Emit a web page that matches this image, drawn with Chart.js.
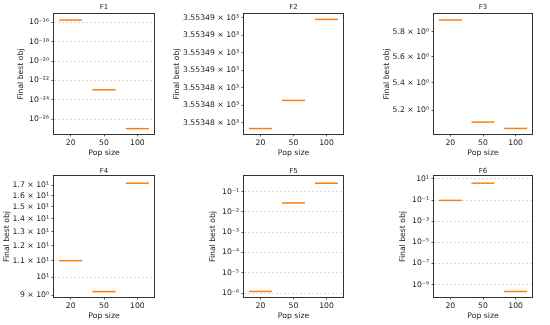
<!DOCTYPE html>
<html>
<head>
<meta charset="utf-8">
<script src="https://cdn.jsdelivr.net/npm/chart.js@4.4.1/dist/chart.umd.min.js"></script>
<style>
  body { margin: 0; background: #fff; }
  #wrap { position: relative; width: 550px; height: 325px; overflow: hidden; }
  canvas { position: absolute; }
</style>
</head>
<body>
<div id="wrap"></div>
<script>
const popSizes = ["20", "50", "100"];

const f1Values = [1.7e-16, 1.1e-23, 1.07e-27];
const f1Ticks = [1e-26, 1e-24, 1e-22, 1e-20, 1e-18, 1e-16];
const f1TickLabels = ["10⁻²⁶", "10⁻²⁴", "10⁻²²", "10⁻²⁰", "10⁻¹⁸", "10⁻¹⁶"];

const f2Values = [3553.47935, 3553.48256, 3553.4918];
const f2Ticks = [3553.48, 3553.482, 3553.484, 3553.486, 3553.488, 3553.49, 3553.492];
const f2TickLabels = [
  "3.55348 × 10³", "3.55348 × 10³", "3.55348 × 10³",
  "3.55349 × 10³", "3.55349 × 10³", "3.55349 × 10³", "3.55349 × 10³",
];

const f3Values = [5.895, 5.114, 5.069];
const f3Ticks = [5.2, 5.4, 5.6, 5.8];
const f3TickLabels = ["5.2 × 10⁰", "5.4 × 10⁰", "5.6 × 10⁰", "5.8 × 10⁰"];

const f4Values = [11.0, 9.2, 17.2];
const f4Ticks = [9, 10, 11, 12, 13, 14, 15, 16, 17];
const f4TickLabels = [
  "9 × 10⁰", "10¹", "1.1 × 10¹", "1.2 × 10¹", "1.3 × 10¹",
  "1.4 × 10¹", "1.5 × 10¹", "1.6 × 10¹", "1.7 × 10¹",
];

const f5Values = [1.2e-6, 0.0275, 0.257];
const f5Ticks = [1e-6, 1e-5, 1e-4, 1e-3, 1e-2, 1e-1];
const f5TickLabels = ["10⁻⁶", "10⁻⁵", "10⁻⁴", "10⁻³", "10⁻²", "10⁻¹"];

const f6Values = [0.093, 4.0, 2.2e-10];
const f6Ticks = [1e-9, 1e-7, 1e-5, 1e-3, 1e-1, 10];
const f6TickLabels = ["10⁻⁹", "10⁻⁷", "10⁻⁵", "10⁻³", "10⁻¹", "10¹"];

// axis ranges (log10 of min / max)
const panels = [
  { title: "F1", values: f1Values, ticks: f1Ticks, labels: f1TickLabels, min: Math.pow(10, -27.52), max: Math.pow(10, -15.14) },
  { title: "F2", values: f2Values, ticks: f2Ticks, labels: f2TickLabels, min: 3553.47873, max: 3553.49242 },
  { title: "F3", values: f3Values, ticks: f3Ticks, labels: f3TickLabels, min: 5.03, max: 5.944 },
  { title: "F4", values: f4Values, ticks: f4Ticks, labels: f4TickLabels, min: 8.92, max: 17.93 },
  { title: "F5", values: f5Values, ticks: f5Ticks, labels: f5TickLabels, min: Math.pow(10, -6.195), max: Math.pow(10, -0.234) },
  { title: "F6", values: f6Values, ticks: f6Ticks, labels: f6TickLabels, min: Math.pow(10, -10.18), max: Math.pow(10, 1.28) },
];

// canvas placement: left, top, y-axis width, plot width, top band, y-title pad
const boxes = [
  { left: 0, top: 0, yw: 54, pw: 112, th: 14, tp: 2.5, yt: 16.1 },
  { left: 170, top: 0, yw: 74, pw: 111, th: 14, tp: 2.5, yt: 2.4 },
  { left: 375, top: 0, yw: 59, pw: 110, th: 14, tp: 2.5, yt: 7.1 },
  { left: 0, top: 163, yw: 54, pw: 112, th: 12, tp: 2.8, yt: 2.7 },
  { left: 200, top: 163, yw: 44, pw: 111, th: 12, tp: 2.8, yt: 8.4 },
  { left: 390, top: 163, yw: 44, pw: 110, th: 12, tp: 2.8, yt: 8.4 },
];

const plotHeight = [120, 120, 120, 122, 122, 122];
const xAxisHeight = 25;
const textColor = "#222";
const lineColor = "#333";
const font = { family: "DejaVu Sans", size: 7.7 };

const isDecade = (v) => {
  const l = Math.log10(v);
  return Math.abs(l - Math.round(l)) < 1e-9;
};

const framePlugin = {
  id: "frame",
  afterDatasetsDraw(chart) {
    const { ctx, chartArea: a } = chart;
    ctx.save();
    ctx.strokeStyle = lineColor;
    ctx.lineWidth = 1;
    ctx.strokeRect(Math.round(a.left) - 0.5, Math.round(a.top) - 0.5,
      Math.round(a.right - a.left) + 1, Math.round(a.bottom - a.top) + 1);
    ctx.restore();
  },
};

const wrap = document.getElementById("wrap");

panels.forEach((p, i) => {
  const b = boxes[i];
  const canvas = document.createElement("canvas");
  canvas.width = b.yw + b.pw + 1;
  canvas.height = b.th + plotHeight[i] + xAxisHeight;
  canvas.style.left = b.left + "px";
  canvas.style.top = b.top + "px";
  wrap.appendChild(canvas);

  new Chart(canvas.getContext("2d"), {
    type: "line",
    data: {
      labels: popSizes,
      datasets: [
        {
          data: p.values,
          showLine: false,
          pointStyle: "line",
          pointRadius: 11.5,
          pointHoverRadius: 11.5,
          pointBorderWidth: 1.5,
          pointBorderColor: "#ff7f0e",
          borderColor: "#ff7f0e",
        },
      ],
    },
    options: {
      responsive: false,
      animation: false,
      events: [],
      layout: { padding: { left: 0, right: 1, top: 0, bottom: 0 } },
      plugins: { legend: { display: false }, tooltip: { enabled: false } },
      scales: {
        x: {
          offset: true,
          grid: { drawOnChartArea: false, tickColor: lineColor, tickLength: 2.5, tickWidth: 0.8 },
          border: { display: false },
          ticks: { padding: 2, color: textColor, font },
          title: { display: true, text: "Pop size", color: textColor, font, padding: { top: 0, bottom: 1 } },
          afterFit: (s) => { s.height = xAxisHeight; },
        },
        top: {
          type: "category",
          position: "top",
          offset: true,
          grid: { display: false },
          border: { display: false },
          ticks: { display: false },
          title: { display: true, text: p.title, color: textColor, font: { family: "DejaVu Sans", size: 7 }, padding: { top: b.tp, bottom: 0 } },
          afterFit: (s) => { s.height = b.th; },
        },
        y: {
          type: "logarithmic",
          min: p.min,
          max: p.max,
          afterBuildTicks: (s) => { s.ticks = p.ticks.map((v) => ({ value: v })); },
          afterFit: (s) => { s.width = b.yw; },
          ticks: { autoSkip: false, padding: 2.5, color: textColor, font, callback: (v, idx) => p.labels[idx] },
          grid: {
            color: (c) => (c.tick && isDecade(c.tick.value) ? "rgba(170,170,170,0.55)" : "rgba(0,0,0,0)"),
            lineWidth: 0.8,
            tickColor: lineColor,
            tickLength: 2.5,
            tickWidth: 0.8,
          },
          border: { display: false, dash: [2, 2] },
          title: { display: true, text: "Final best obj", color: textColor, font, padding: { top: b.yt, bottom: 0 } },
        },
      },
    },
    plugins: [framePlugin],
  });
});
</script>
</body>
</html>
